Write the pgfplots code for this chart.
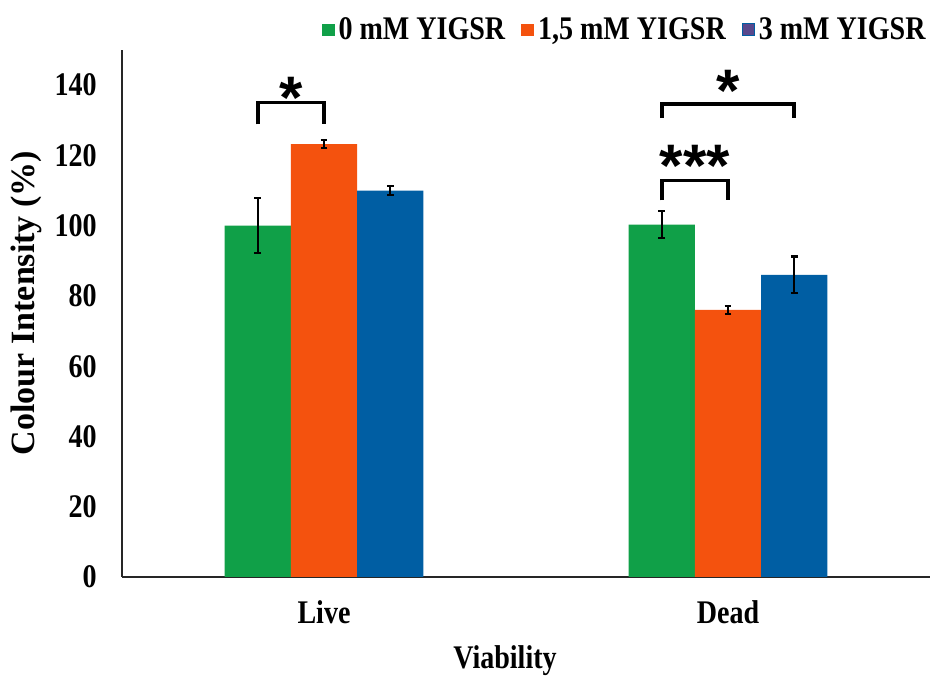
\documentclass[border=0pt]{standalone}
\usepackage{pgfplots}
\pgfplotsset{compat=1.18}
\usepackage{fontspec}
\setmainfont{Liberation Serif}[FakeStretch=0.85]
\newfontfamily\ylabfont{Liberation Serif}
\newfontfamily\starfont{Liberation Sans}
\definecolor{cg}{RGB}{16,160,72}
\definecolor{co}{RGB}{244,82,14}
\definecolor{cb}{RGB}{0,94,163}
\definecolor{cp}{RGB}{88,72,140}
\newcommand{\bigf}{\fontsize{16.5}{16.5}\selectfont\bfseries}
\pgfplotsset{myerr/.style={error bars/y dir=both, error bars/y explicit,
  error bars/error bar style={line width=1pt, black},
  error bars/error mark options={rotate=90, mark size=1.7pt, line width=1.1pt, black}}}
\begin{document}
\begin{tikzpicture}
\begin{axis}[
  scale only axis, width=404pt, height=263.5pt,
  xmin=-0.5, xmax=1.5, ymin=0, ymax=150,
  ybar=0pt, bar width=0.164,
  axis lines=left, axis line style={line width=1.1pt, -, black!85},
  xtick={0,1}, xticklabels={Live,Dead},
  ytick={0,20,...,140}, major tick length=0pt,
  tick label style={font=\bigf},
  /pgf/number format/assume math mode=true,
  yticklabel style={inner sep=0pt, anchor=east, xshift=-12.5pt},
  xticklabel style={inner sep=0pt, anchor=center, yshift=-17.5pt},
  xlabel={Viability}, ylabel={Colour Intensity (\%)},
  every axis y label/.style={at={(axis description cs:0,0.52)}, rotate=90, anchor=center, yshift=48pt, font=\ylabfont\fontsize{17}{17}\selectfont\bfseries},
  every axis x label/.style={at={(axis description cs:0.474,0)}, anchor=center, yshift=-42pt, font=\bigf},
  legend style={at={(axis description cs:1,1)}, anchor=east, yshift=10pt, draw=none, fill=none,
    legend columns=3, font=\bigf, inner sep=0pt,
    /tikz/every even column/.append style={column sep=6pt}},
  legend image code/.code={\fill[#1] (0pt,-3.2pt) rectangle (6.4pt,3.2pt);},
]
\addplot[fill=cg, draw=none, myerr] coordinates {(0,100) +- (0,7.8) (1,100.3) +- (0,3.8)};
\addplot[fill=co, draw=none, myerr] coordinates {(0,123.2) +- (0,1.2) (1,76) +- (0,1.2)};
\addplot[fill=cb, draw=none, myerr, legend image code/.code={\filldraw[fill=cp, draw=cb, line width=0.5pt] (0pt,-3pt) rectangle (6pt,3pt);}] coordinates {(0,110) +- (0,1.3) (1,86) +- (0,5.2)};
\legend{0 mM YIGSR, {1,5 mM YIGSR}, 3 mM YIGSR}
% significance brackets
\draw[line width=1.8pt, black] (axis cs:-0.164,128.8) -- (axis cs:-0.164,135.1) -- (axis cs:0,135.1) -- (axis cs:0,128.8);
\node[font=\starfont\fontsize{30}{30}\selectfont\bfseries, inner sep=0pt] at (axis cs:-0.082,136.5) {*};
\draw[line width=1.8pt, black] (axis cs:0.836,107.2) -- (axis cs:0.836,112.9) -- (axis cs:1,112.9) -- (axis cs:1,107.2);
\node[font=\starfont\fontsize{30}{30}\selectfont\bfseries, inner sep=0pt] at (axis cs:0.918,117) {***};
\draw[line width=1.8pt, black] (axis cs:0.836,130.6) -- (axis cs:0.836,134.6) -- (axis cs:1.164,134.6) -- (axis cs:1.164,130.6);
\node[font=\starfont\fontsize{30}{30}\selectfont\bfseries, inner sep=0pt] at (axis cs:1,138.5) {*};
\end{axis}
\pgfresetboundingbox
\path (-61pt,-51pt) rectangle (407pt,288.5pt);
\end{tikzpicture}
\end{document}
